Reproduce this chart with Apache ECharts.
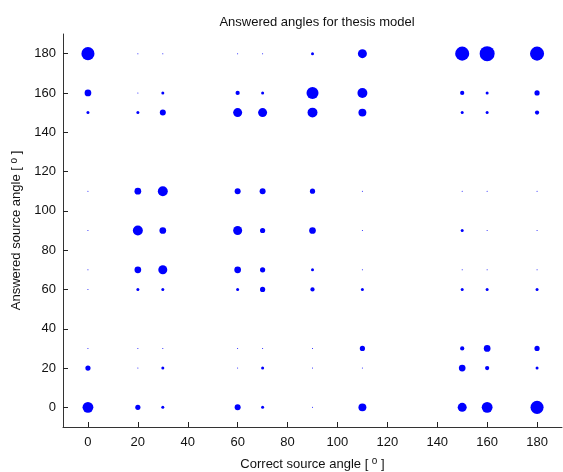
<!DOCTYPE html>
<html>
<head>
<meta charset="utf-8">
<script src="https://cdn.jsdelivr.net/npm/echarts@6/dist/echarts.min.js"></script>
<style>html,body{margin:0;padding:0;background:#fff}#c{width:563px;height:472px}</style>
</head>
<body>
<div id="c"></div>
<script>
// Tested (correct) angles on x, answered angles on y
var correctAngles = [0, 20, 30, 60, 70, 90, 110, 150, 160, 180];
var answeredAngles = [180, 160, 150, 110, 90, 70, 60, 30, 20, 0];
// Response counts: one row per answered angle, columns follow correctAngles
var counts180 = [19, 0, 0, 0, 0, 1, 9, 22, 25, 22];
var counts160 = [5, 0, 1, 2, 1, 16, 11, 2, 1, 3];
var counts150 = [1, 1, 4, 9, 9, 11, 7, 1, 1, 2];
var counts110 = [0, 5, 11, 4, 4, 3, 0, 0, 0, 0];
var counts90  = [0, 11, 5, 9, 3, 5, 0, 1, 0, 0];
var counts70  = [0, 5, 9, 5, 3, 1, 0, 0, 0, 0];
var counts60  = [0, 1, 1, 1, 3, 2, 1, 1, 1, 1];
var counts30  = [0, 0, 0, 0, 0, 0, 3, 2, 5, 3];
var counts20  = [3, 0, 1, 0, 1, 0, 0, 5, 2, 1];
var counts0   = [13, 3, 1, 4, 1, 0, 7, 9, 13, 19];
var countRows = [counts180, counts160, counts150, counts110, counts90, counts70, counts60, counts30, counts20, counts0];
var tickValues = [0, 20, 40, 60, 80, 100, 120, 140, 160, 180];

var data = [];
for (var r = 0; r < answeredAngles.length; r++) {
  for (var c = 0; c < correctAngles.length; c++) {
    data.push([correctAngles[c], answeredAngles[r], countRows[r][c]]);
  }
}

var chart = echarts.init(document.getElementById('c'), null, {renderer: 'canvas'});
var axisCommon = {
  type: 'value', min: -10, max: 190,
  axisLine: {show: true, onZero: false, lineStyle: {color: '#333', width: 1}},
  axisTick: {show: true, inside: true, length: 5, customValues: tickValues, lineStyle: {color: '#222'}},
  axisLabel: {customValues: tickValues, color: '#111', fontSize: 13, fontFamily: 'Liberation Sans, Arial, sans-serif'},
  splitLine: {show: false},
  nameLocation: 'middle',
  nameTextStyle: {color: '#111', fontSize: 13, fontFamily: 'Liberation Sans, Arial, sans-serif',
    rich: {sup: {fontSize: 10, verticalAlign: 'top', padding: [0, 0, 6, 0], color: '#111', fontFamily: 'Liberation Sans, Arial, sans-serif'}}}
};
chart.setOption({
  animation: false,
  backgroundColor: '#fff',
  title: {text: 'Answered angles for thesis model', left: 312, top: 11, textAlign: 'center',
    textStyle: {fontSize: 13, fontWeight: 'normal', color: '#111', fontFamily: 'Liberation Sans, Arial, sans-serif'}},
  grid: {left: 63, right: 1, top: 34, bottom: 45, containLabel: false, outerBoundsMode: 'none'},
  xAxis: Object.assign({}, axisCommon, {
    name: 'Correct source angle [ {sup|o} ]', nameGap: 29,
    axisLabel: Object.assign({}, axisCommon.axisLabel, {margin: 9})
  }),
  yAxis: Object.assign({}, axisCommon, {
    name: 'Answered source angle [ {sup|o} ]', nameGap: 32,
    axisLabel: Object.assign({}, axisCommon.axisLabel, {margin: 7})
  }),
  series: [{
    type: 'scatter',
    data: data,
    symbol: 'circle',
    symbolSize: function (v) { return v[2] > 0 ? 3 * Math.sqrt(v[2]) : 1; },
    itemStyle: {color: '#0000ff', opacity: 1}
  }]
});
</script>
</body>
</html>
